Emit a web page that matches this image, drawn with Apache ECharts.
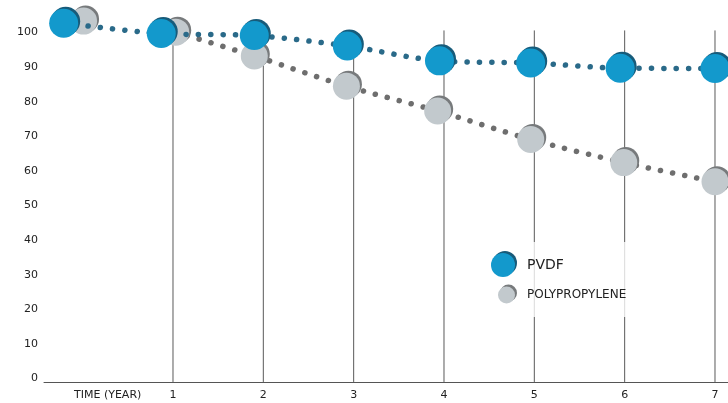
<!DOCTYPE html>
<html>
<head>
<meta charset="utf-8">
<script src="https://cdn.jsdelivr.net/npm/echarts@6/dist/echarts.min.js"></script>
<style>
html,body{margin:0;padding:0;background:#fff;}
#chart{width:728px;height:403px;}
</style>
</head>
<body>
<div id="chart"></div>
<script>
// ---- data ----
var seriesNames = ['PVDF', 'POLYPROPYLENE'];
var pvdfYear  = [-0.21, 0.87, 1.90, 2.93, 3.95, 4.96, 5.95, 7.00];
var pvdfValue = [102.7, 99.7, 99.1, 96.1, 91.8, 91.2, 89.7, 89.6];
var ppYear    = [0.01, 1.03, 1.90, 2.92, 3.93, 4.96, 5.99, 7.00];
var ppValue   = [103.3, 100.1, 93.2, 84.5, 77.3, 69.1, 62.4, 56.9];
// whether the dotted line runs into each point from the previous one
var ppJoined  = [false, false, true, true, true, true, true, true];
var xTickValues = [0, 1, 2, 3, 4, 5, 6, 7];
var xTickLabels = ['TIME (YEAR)', '1', '2', '3', '4', '5', '6', '7'];
var yTickValues = [0, 10, 20, 30, 40, 50, 60, 70, 80, 90, 100];
var guideYears = [1, 2, 3, 4, 5, 6, 7];
var guideTop = 100.6;

function pairs(xs, ys) { return xs.map(function (x, i) { return [x, ys[i]]; }); }
function pairsWithGaps(xs, ys, joined) {
  var out = [];
  xs.forEach(function (x, i) {
    if (i > 0 && !joined[i]) out.push('-');
    out.push([x, ys[i]]);
  });
  return out;
}

var font = 'DejaVu Sans';
var chart = echarts.init(document.getElementById('chart'), null, {renderer: 'canvas'});

var pvdfItem = {color: '#1399cc', shadowColor: '#175b7a', shadowBlur: 0, shadowOffsetX: 2, shadowOffsetY: -2};
var ppItem = {color: '#c2c9cd', shadowColor: '#777a7c', shadowBlur: 0, shadowOffsetX: 2, shadowOffsetY: -2};

chart.setOption({
  animation: false,
  backgroundColor: '#fff',
  grid: {left: 44, right: 0, top: 1.36, bottom: 21.04, containLabel: false},
  xAxis: {
    type: 'value', min: -0.428, max: 7.144,
    axisLine: {show: true, onZero: false, lineStyle: {color: '#555', width: 1}},
    axisTick: {show: false},
    splitLine: {show: false},
    axisLabel: {
      customValues: xTickValues,
      margin: 8,
      color: '#222', fontFamily: font, fontSize: 11,
      formatter: function (v) {
        var i = xTickValues.indexOf(v);
        var t = i >= 0 ? xTickLabels[i] : '';
        return i === 0 ? '{t|' + t + '}' : t;
      },
      rich: {t: {padding: [0, 0, 0, 50], color: '#222', fontFamily: font, fontSize: 11}}
    }
  },
  yAxis: {
    type: 'value', min: -1, max: 109,
    axisLine: {show: false}, axisTick: {show: false}, splitLine: {show: false},
    axisLabel: {customValues: yTickValues, margin: 6, color: '#222', fontFamily: font, fontSize: 11}
  },
  legend: [
    {
      data: [{name: seriesNames[0], icon: 'circle', itemStyle: pvdfItem}],
      left: 491, top: 253, padding: 0, itemWidth: 24, itemHeight: 24,
      selectedMode: false, z: 10,
      textStyle: {color: '#222', fontFamily: font, fontSize: 14, padding: [0, 0, 0, 7]}
    },
    {
      data: [{name: seriesNames[1], icon: 'circle', itemStyle: ppItem}],
      left: 498, top: 286.5, padding: 0, itemWidth: 17, itemHeight: 17,
      selectedMode: false, z: 10,
      textStyle: {color: '#222', fontFamily: font, fontSize: 12, padding: [0, 0, 0, 7]}
    }
  ],
  graphic: [{
    type: 'rect', z: 5, silent: true,
    shape: {x: 488, y: 242, width: 140, height: 75},
    style: {fill: 'rgba(255,255,255,0.78)'}
  }],
  series: [
    {
      type: 'custom', z: 1, silent: true, clip: false,
      data: guideYears.map(function (y) { return [y, guideTop]; }),
      renderItem: function (params, api) {
        var top = api.coord([api.value(0), api.value(1)]);
        var bottomY = params.coordSys.y + params.coordSys.height;
        return {type: 'line', shape: {x1: top[0], y1: top[1], x2: top[0], y2: bottomY},
                style: {stroke: '#5a5a5a', lineWidth: 1}};
      }
    },
    {
      name: seriesNames[1], type: 'line', z: 3, clip: false,
      data: pairsWithGaps(ppYear, ppValue, ppJoined),
      connectNulls: false,
      smooth: 0.3,
      symbol: 'circle', symbolSize: 27,
      itemStyle: ppItem,
      lineStyle: {color: '#6e6e6e', width: 5.5, type: [0.1, 12.2], cap: 'round'}
    },
    {
      name: seriesNames[0], type: 'line', z: 4, clip: false,
      data: pairs(pvdfYear, pvdfValue),
      smooth: 0.3,
      symbol: 'circle', symbolSize: 29,
      itemStyle: pvdfItem,
      lineStyle: {color: '#2a6a89', width: 5.5, type: [0.1, 12.2], cap: 'round'}
    }
  ]
});
</script>
</body>
</html>
